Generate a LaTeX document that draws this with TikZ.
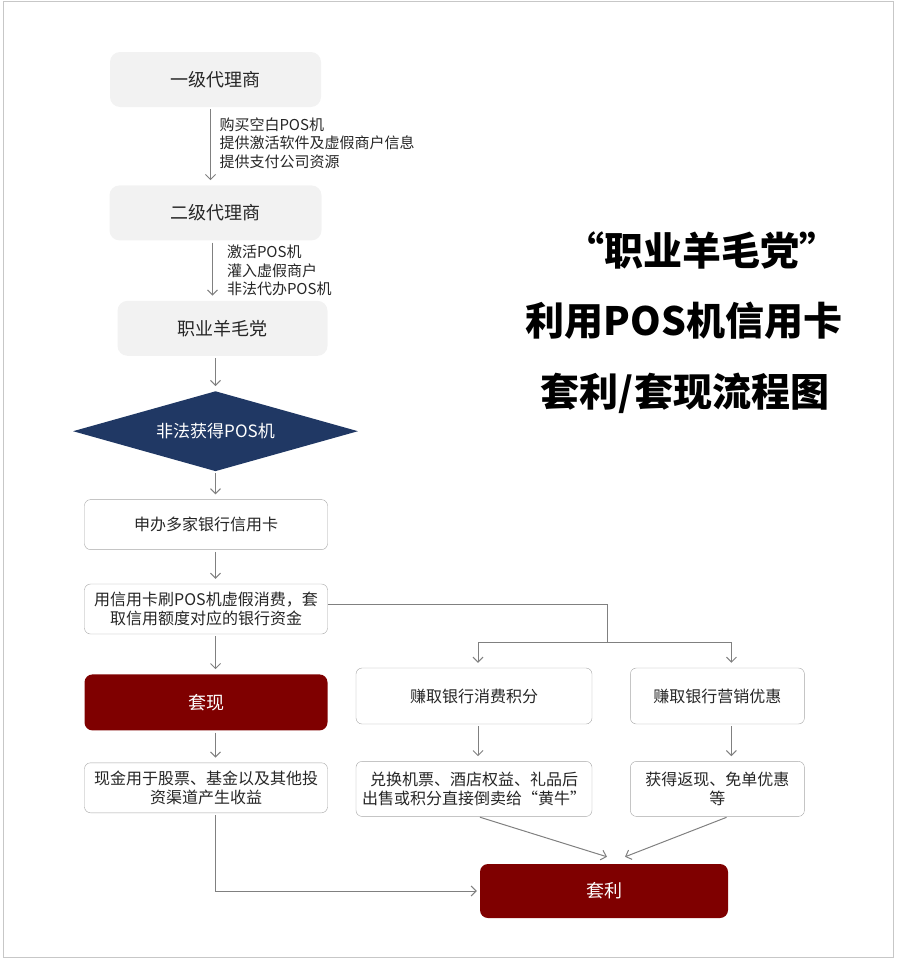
\documentclass[tikz,border=0pt]{standalone}
\usepackage{fontspec}
\setmainfont{Noto Sans CJK SC}
\usepackage[dvipsnames]{xcolor}
\definecolor{colorNavy}{HTML}{203864}
\definecolor{colorProfit}{HTML}{7F0000}
\colorlet{colorLine}{black!50}
\colorlet{colorBorder}{black!35}
\colorlet{colorFill}{black!5}
\colorlet{colorText}{black!85}
\usepackage{tikz}
\usetikzlibrary{arrows.meta, positioning, shapes.geometric}
\tikzset{
  agentbox/.style={fill=colorFill, rounded corners=10pt, text=colorText, font=\fontsize{18}{22}\selectfont, minimum height=55pt},
  plainbox/.style={draw=colorBorder, fill=white, rounded corners=6pt, text=colorText, align=center, font=\fontsize{16}{19}\selectfont, minimum width=243pt, minimum height=50pt},
  redbox/.style={fill=colorProfit, rounded corners=8pt, text=white, font=\fontsize{18}{22}\selectfont},
  flow/.style={->, colorLine, line width=1pt, shorten >=5pt, shorten <=2pt},
  steptext/.style={align=left, text=colorText, font=\fontsize{15}{18.5}\selectfont, inner sep=4pt}
}

\begin{document}
\begin{tikzpicture}[x=1pt, y=-1pt, >={Straight Barb[length=5pt, width=10pt]}]
\useasboundingbox (0,0) rectangle (900,961);
\draw[black!22, line width=1pt] (3,1) rectangle (893,957);
% left column
\node[agentbox, minimum width=211pt] (agent1) at (215.5,79.5) {一级代理商};
\node[agentbox, minimum width=212pt, below=78pt of agent1] (agent2) {二级代理商};
\node[agentbox, minimum width=210pt, below=60pt of agent2, xshift=7pt] (wool) {职业羊毛党};
\node[diamond, aspect=3.5, fill=colorNavy, text=white, inner sep=0pt, minimum width=285pt, minimum height=80pt, font=\fontsize{17}{20}\selectfont, below=35pt of wool, xshift=-7pt] (illegal) {非法获得POS机};
\node[plainbox, below=28pt of illegal, xshift=-9.5pt] (apply) {申办多家银行信用卡};
\node[plainbox, below=34pt of apply] (swipe) {用信用卡刷POS机虚假消费，套\\取信用额度对应的银行资金};
\node[redbox, minimum width=243pt, minimum height=56pt, below=40pt of swipe] (cash) {套现};
\node[plainbox, below=32pt of cash] (invest) {现金用于股票、基金以及其他投\\资渠道产生收益};
% right branches
\node[plainbox, minimum width=236pt, minimum height=56pt] (points) at (474,696) {赚取银行消费积分};
\node[plainbox, minimum width=174pt, minimum height=56pt, right=38pt of points] (promo) {赚取银行营销优惠};
\node[plainbox, minimum width=236pt, minimum height=55pt, below=37pt of points] (redeem) {兑换机票、酒店权益、礼品后\\出售或积分直接倒卖给“黄牛”};
\node[plainbox, minimum width=174pt, minimum height=55pt, below=37pt of promo] (cashback) {获得返现、免单优惠\\等};
\node[redbox, minimum width=248pt, minimum height=54pt] (profit) at (604,891) {套利};
% title
\node[font=\fontsize{39}{47}\bfseries, text=black] (title1) at (702,250) {“职业羊毛党”};
\node[font=\fontsize{39}{47}\bfseries, text=black] (title2) at (684,321) {利用POS机信用卡};
\node[font=\fontsize{39}{47}\bfseries, text=black] (title3) at (685,393) {套利/套现流程图};
% connectors
\draw[flow] ([xshift=-5pt]agent1.south) -- ([xshift=-5pt]agent2.north) node[steptext, midway, right=4.5pt, yshift=3pt] {购买空白POS机\\提供激活软件及虚假商户信息\\提供支付公司资源};
\draw[flow] ([xshift=-3pt]agent2.south) -- ([xshift=-3pt]agent2.south |- wool.north) node[steptext, midway, right=10pt] {激活POS机\\灌入虚假商户\\非法代办POS机};
\draw[flow] (wool.south -| illegal.north) -- (illegal.north);
\draw[flow] (illegal.south) -- (apply.north -| illegal.south);
\draw[flow] (apply.south -| illegal.south) -- (swipe.north -| illegal.south);
\draw[flow] (swipe.south -| illegal.south) -- (cash.north -| illegal.south);
\draw[flow] (cash.south -| illegal.south) -- (invest.north -| illegal.south);
\draw[flow, shorten >=3pt] (invest.south -| illegal.south) |- (profit.west);
\coordinate (split) at (607,642);
\draw[colorLine, line width=1pt] ([yshift=5pt]swipe.east) -| (split);
\draw[flow, shorten <=0pt] (split) -| ([xshift=4pt]points.north);
\draw[flow, shorten <=0pt] (split) -| ([xshift=14pt]promo.north);
\draw[flow] ([xshift=4pt]points.south) -- ([xshift=4pt]redeem.north);
\draw[flow] ([xshift=14pt]promo.south) -- ([xshift=14pt]cashback.north);
\draw[flow, shorten >=0pt] ([xshift=4pt]redeem.south) -- ([xshift=3pt, yshift=7pt]profit.north);
\draw[flow, shorten >=0pt] ([xshift=11pt]cashback.south) -- ([xshift=21pt, yshift=7pt]profit.north);
\end{tikzpicture}
\end{document}
